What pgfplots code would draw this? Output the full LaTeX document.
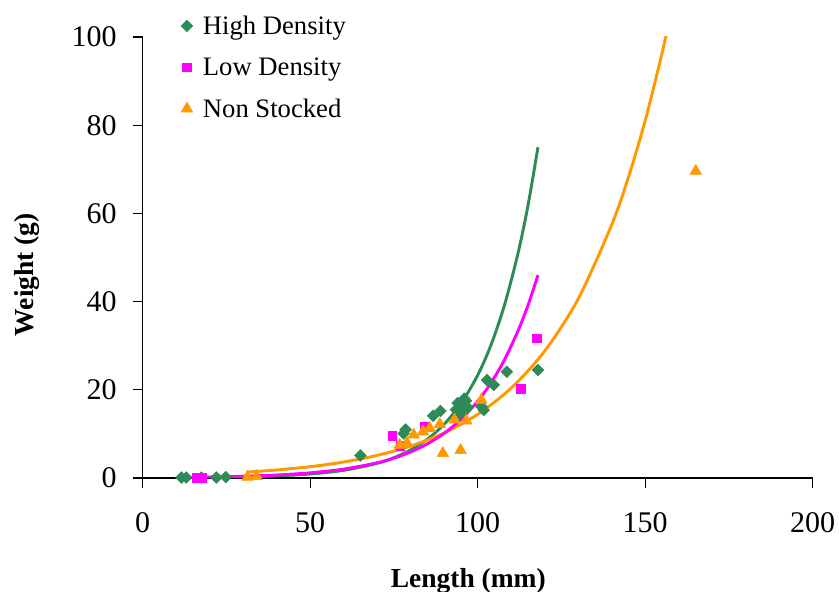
\documentclass[border=0pt]{standalone}
\usepackage{fontspec}
\setmainfont{Liberation Serif}
\usepackage{pgfplots}
\pgfplotsset{compat=1.18}
\definecolor{hdgreen}{RGB}{46,139,87}
\definecolor{ldmag}{RGB}{255,0,255}
\definecolor{nsorange}{RGB}{255,153,0}
\begin{document}
\begin{tikzpicture}
\begin{axis}[
  scale only axis,
  width=502.5pt, height=330.75pt,
  xmin=0, xmax=200, ymin=0, ymax=100,
  xtick={0,50,100,150,200}, ytick={0,20,40,60,80,100},
  axis x line=bottom, axis y line=left,
  axis line style={-, line width=0.8pt},
  tick align=outside, major tick length=7.5pt,
  tick style={line width=0.8pt, black},
  minor tick num=0,
  /pgf/number format/assume math mode=true,
  ticklabel style={font=\fontsize{22.5}{27}\selectfont},
  yticklabel style={xshift=-8.5pt},
  xticklabel style={yshift=-14.7pt},
  xlabel={\textbf{Length (mm)}},
  ylabel={\textbf{Weight (g)}},
  label style={font=\fontsize{20.6}{24}\selectfont},
  xlabel style={at={(axis description cs:0.486,-0.2479)}, anchor=base},
  ylabel style={at={(axis description cs:-0.1632,0.461)}, anchor=base},
  clip=true,
  legend style={draw=none, fill=none, at={(0.051,1.061)}, anchor=north west,
    font=\fontsize{20}{24}\selectfont, row sep=12pt},
  legend cell align=left,
]
\path (rel axis cs:0,0) coordinate (O);
% High Density
\addplot[only marks, mark=square*, mark size=3.1pt, mark options={rotate=45}, color=hdgreen] coordinates {
(11.6,0.1) (13,0.1) (17.5,0.1) (22,0.1) (24.8,0.2)
(65,5.1) (77.9,10.1) (78.5,11.0) (86.7,14.1) (88.9,15.2)
(93.5,15.5) (94,17) (95,16.5) (96,18) (96.5,17.5) (95.5,15) (97,16) (94.5,14.5)
(101.1,16.2) (101.8,15.4) (102.8,22.2) (104.8,21.1) (108.7,24.1) (118,24.5)
};
\addlegendentry{\hspace{5.6pt}High Density}
% Low Density
\addplot[only marks, mark=square*, mark size=3.3pt, color=ldmag] coordinates {
(16,0.1) (17.6,0.1) (74.5,9.5) (76.9,7.3) (84.2,11.6) (112.8,20.2) (117.7,31.7)
};
\addlegendentry{\hspace{5.6pt}Low Density}
% Non Stocked
\addplot[only marks, mark=triangle*, mark size=5pt, color=nsorange] coordinates {
(31.3,0.2) (34,0.4) (76.7,7.5) (78.9,7.9) (80.9,9.8) (83.7,10.5) (85.7,11.3) (88.7,12.2)
(89.6,5.6) (94.9,6.3) (93.1,13.2) (96.6,13.0) (101.1,17.7) (165.1,69.6)
};
\addlegendentry{\hspace{5.6pt}Non Stocked}
% trendlines
\addplot[forget plot, color=hdgreen, line width=2.2pt, smooth] coordinates {
(12,0.08) (20,0.13) (30,0.25) (40,0.47) (50,0.91) (60,1.74) (70,3.33) (75,4.60)
(80,6.37) (85,8.81) (90,12.19) (95,16.86) (100,23.3) (104,30.2) (108,39.2)
(112,50.8) (115,61.7) (118,75.0)
};
\addplot[forget plot, color=nsorange, line width=2.2pt, smooth] coordinates {
(31,1.33) (40,1.82) (50,2.57) (60,3.63) (70,5.13) (80,7.24) (90,10.22) (100,14.43)
(110,20.38) (120,28.78) (130,40.6) (140,57.4) (145,68.2) (150,81.0) (155,96.2) (157,103.1)
};
\addplot[forget plot, color=ldmag, line width=2.2pt, smooth] coordinates {
(16,0.19) (20,0.23) (30,0.40) (40,0.68) (50,1.17) (60,2.01) (70,3.44) (75,4.51)
(80,5.91) (85,7.74) (90,10.14) (95,13.29) (100,17.40) (104,21.6) (108,26.8)
(112,33.3) (115,39.1) (118,46.0)
};
\end{axis}
\pgfresetboundingbox
\path (O) ++(-107pt,-85.5pt) rectangle ++(629.25pt,444pt);
\end{tikzpicture}
\end{document}
